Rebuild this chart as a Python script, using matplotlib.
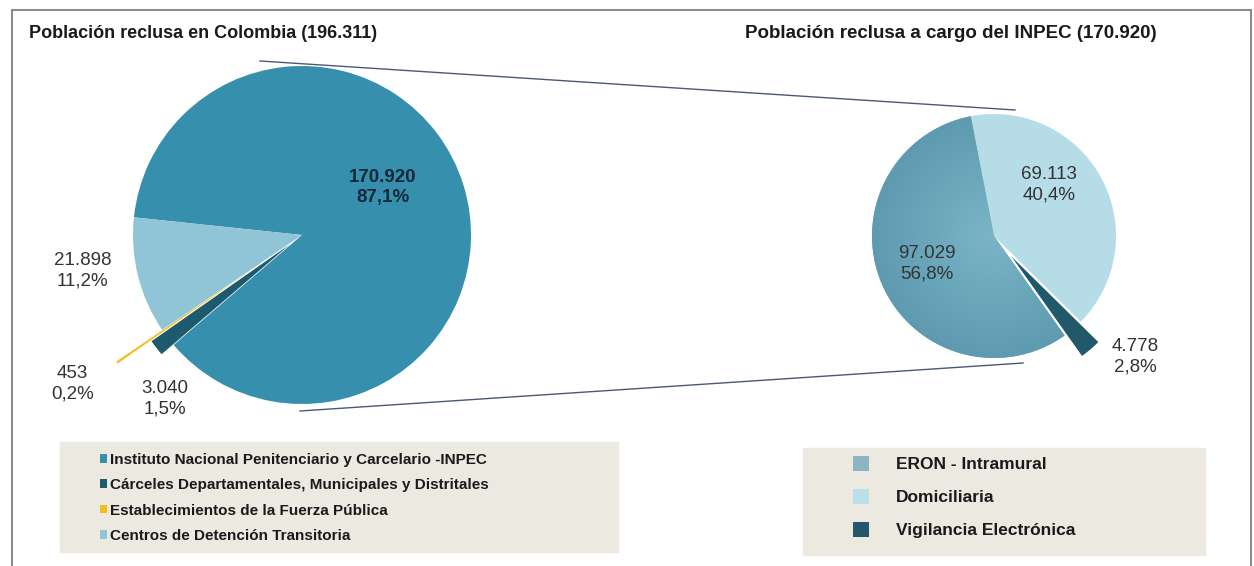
import numpy as np
import matplotlib
matplotlib.use("Agg")
import matplotlib.pyplot as plt
from matplotlib.patches import Rectangle, Patch
from matplotlib.lines import Line2D

plt.rcParams['font.family'] = ['Liberation Sans', 'DejaVu Sans']

W, H = 1254, 566

# left pie: prison population in Colombia
left_title = "Población reclusa en Colombia (196.311)"
left_names = ["Instituto Nacional Penitenciario y Carcelario -INPEC",
              "Cárceles Departamentales, Municipales y Distritales",
              "Establecimientos de la Fuerza Pública",
              "Centros de Detención Transitoria"]
left_values = [170920, 3040, 453, 21898]
left_value_txt = ["170.920", "3.040", "453", "21.898"]
left_pct_txt = ["87,1%", "1,5%", "0,2%", "11,2%"]
left_colors = ["#3690ad", "#1d5a6e", "#f2c01e", "#8fc5d6"]

# right pie: population in charge of INPEC
right_title = "Población reclusa a cargo del INPEC (170.920)"
right_names = ["ERON - Intramural", "Domiciliaria", "Vigilancia Electrónica"]
right_values = [97029, 69113, 4778]
right_value_txt = ["97.029", "69.113", "4.778"]
right_pct_txt = ["56,8%", "40,4%", "2,8%"]
right_colors = ["#6aa7bb", "#b6dce8", "#21596b"]


def fx(x):
    return x / W


def fy(y):
    return 1 - y / H


def pie_axes(cx, cy, r, lim=1.5):
    size = 2 * lim * r
    ax = fig.add_axes([fx(cx - size / 2), fy(cy + size / 2), size / W, size / H])
    return ax


fig = plt.figure(figsize=(W / 100, H / 100), dpi=100)
fig.patch.set_facecolor("white")

# outer frame
fig.add_artist(Rectangle((fx(12), fy(600)), fx(1251) - fx(12), fy(10) - fy(600),
                         transform=fig.transFigure, fill=False,
                         edgecolor="#8c8c8c", linewidth=1.5))

# connector lines between the two pies
line_col = "#4b5878"
fig.add_artist(Line2D([fx(260), fx(1015)], [fy(61), fy(110)],
                      transform=fig.transFigure, color=line_col, lw=1))
fig.add_artist(Line2D([fx(300), fx(1023)], [fy(411), fy(363)],
                      transform=fig.transFigure, color=line_col, lw=1))

# ---- left pie ----
axl = pie_axes(302, 235, 169)
order = [0, 3, 2, 1]  # INPEC, Centros, Fuerza, Carceles (counterclockwise)
explode_l = {0: 0, 3: 0, 2: 0.33, 1: 0.09}
axl.pie([left_values[i] for i in order],
        colors=[left_colors[i] for i in order],
        explode=[explode_l[i] for i in order],
        startangle=174 - 360 * left_values[0] / sum(left_values),
        counterclock=True, wedgeprops=dict(linewidth=0))
axl.set_xlim(-1.5, 1.5)
axl.set_ylim(-1.5, 1.5)
axl.set_aspect("auto")

lab_pos_l = [(0.48, 0.28), (-0.81, -0.97), (-1.36, -0.88), (-1.30, -0.21)]
for i, (x, y) in enumerate(lab_pos_l):
    bold = i == 0
    axl.text(x, y, f"{left_value_txt[i]}\n{left_pct_txt[i]}", ha="center",
             va="center", fontsize=13.5, linespacing=1.25,
             fontweight="bold" if bold else "normal",
             color="#14283a" if bold else "#333333")

# ---- right pie ----
axr = pie_axes(994, 236, 122)
order_r = [1, 2, 0]  # Domiciliaria, Vigilancia, ERON (clockwise)
explode_r = {0: 0, 1: 0, 2: 0.22}
wedges, _ = axr.pie([right_values[i] for i in order_r],
                    colors=[right_colors[i] for i in order_r],
                    explode=[explode_r[i] for i in order_r],
                    startangle=101, counterclock=False,
                    wedgeprops=dict(linewidth=0))

# soft radial shading on the ERON wedge
gx, gy = np.meshgrid(np.linspace(-1, 1, 200), np.linspace(-1, 1, 200))
rr = np.sqrt(gx ** 2 + gy ** 2)
cmap = matplotlib.colors.LinearSegmentedColormap.from_list(
    "eron", ["#7cb4c6", "#6ba8bc", "#5e9bb0"])
img = axr.imshow(rr, cmap=cmap, extent=(-1, 1, -1, 1), origin="lower",
                 vmin=0, vmax=1, zorder=wedges[2].get_zorder() + 0.1)
img.set_clip_path(wedges[2])
axr.set_xlim(-1.5, 1.5)
axr.set_ylim(-1.5, 1.5)
axr.set_aspect("auto")
axr.axis("off")

lab_pos_r = [(-0.55, -0.23), (0.45, 0.42), (1.16, -0.99)]
for i, (x, y) in enumerate(lab_pos_r):
    axr.text(x, y, f"{right_value_txt[i]}\n{right_pct_txt[i]}", ha="center",
             va="center", fontsize=13.5, linespacing=1.25, color="#333333",
             zorder=5)

# titles
fig.text(fx(29), fy(33), left_title, fontsize=13, fontweight="bold",
         color="#1a1a1a", va="center", ha="left")
fig.text(fx(951), fy(33), right_title, fontsize=13.5, fontweight="bold",
         color="#1a1a1a", va="center", ha="center")

# ---- legends ----
legend_bg = "#ece9e1"
fig.add_artist(Rectangle((fx(60), fy(552)), fx(618) - fx(60), fy(442) - fy(552),
                         transform=fig.transFigure, color=legend_bg, zorder=0))
fig.add_artist(Rectangle((fx(803), fy(555)), fx(1205) - fx(803), fy(448) - fy(555),
                         transform=fig.transFigure, color=legend_bg, zorder=0))

hl = [Patch(facecolor=c, edgecolor="none") for c in left_colors]
fig.legend(hl, left_names, loc="upper left",
           bbox_to_anchor=(fx(92), fy(445)), frameon=False,
           prop=dict(weight="bold", size=11), handlelength=0.5,
           handleheight=0.5, handletextpad=0.2, labelspacing=0.75,
           labelcolor="#1a1a1a", borderpad=0)

hr = [Patch(facecolor="#8db4c2", edgecolor="none"),
      Patch(facecolor="#bcdfea", edgecolor="none"),
      Patch(facecolor=right_colors[2], edgecolor="none")]
fig.legend(hr, right_names, loc="upper left",
           bbox_to_anchor=(fx(844), fy(447)), frameon=False,
           prop=dict(weight="bold", size=12.5), handlelength=0.95,
           handleheight=0.95, handletextpad=1.55, labelspacing=0.95,
           labelcolor="#1a1a1a", borderpad=0)

fig.savefig("out.png", dpi=100, facecolor="white")
